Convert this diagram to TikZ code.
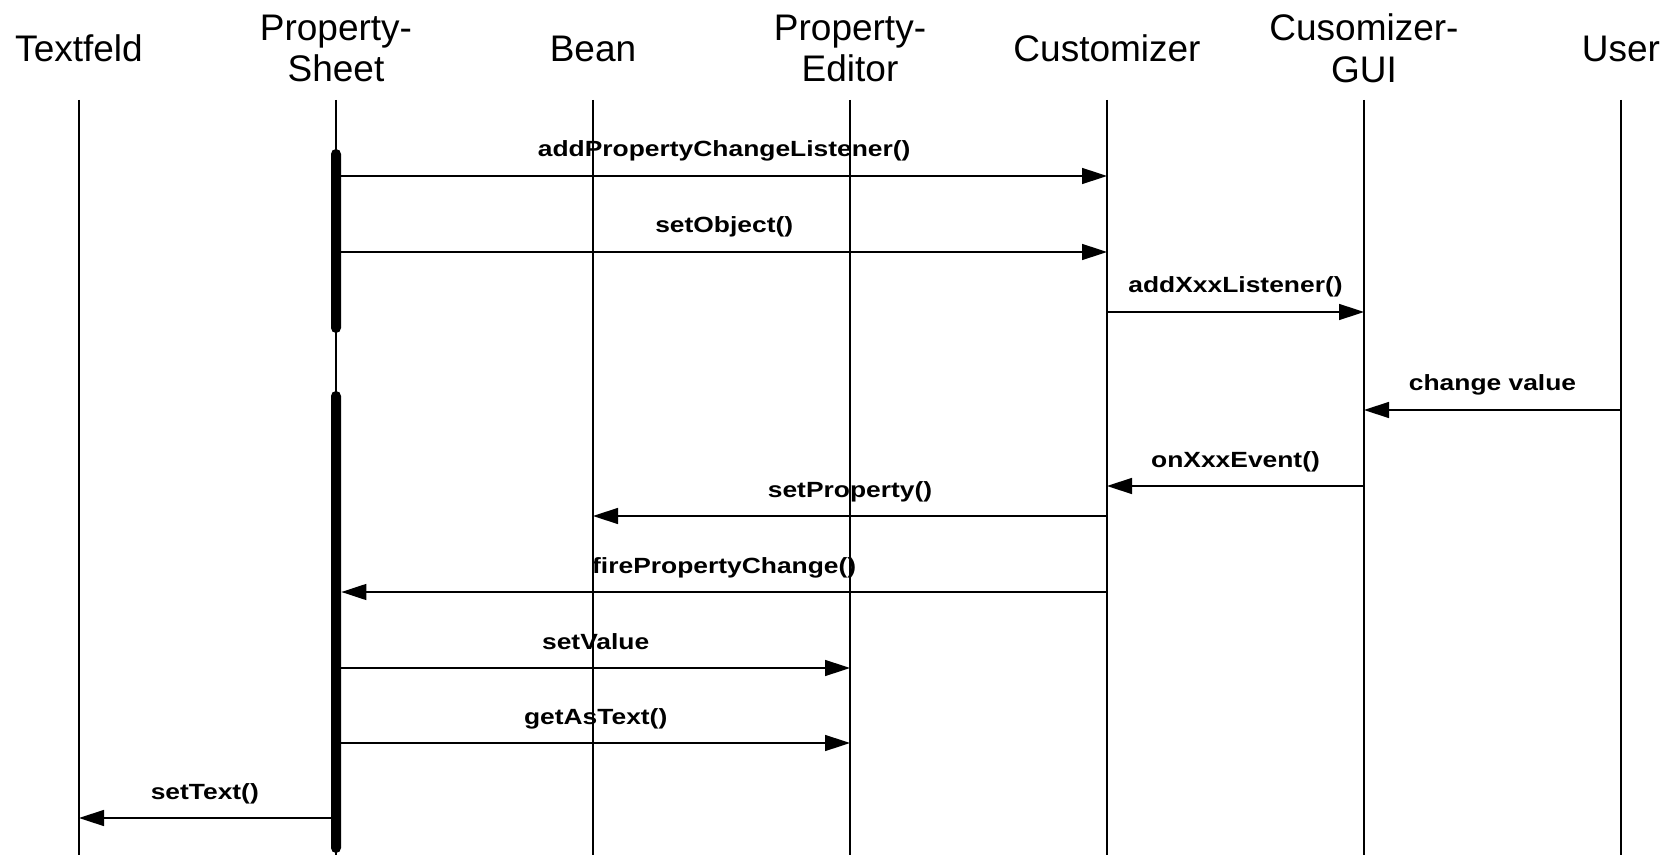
\documentclass[tikz,border=0pt]{standalone}
\usepackage{fontspec}
\setmainfont{Liberation Sans}
\newfontfamily\msgfont[FakeStretch=1.2]{Liberation Sans}
\usetikzlibrary{positioning,arrows.meta}

\begin{document}
\begin{tikzpicture}[x=0.5pt, y=-0.5pt, node distance=128.5pt, on grid]
    \tikzstyle{head}=[align=center, inner sep=0pt, font=\fontsize{18.5}{20.75}\selectfont]
    \tikzstyle{life}=[line width=0.75pt]
    \tikzstyle{actbar}=[fill=black, rounded corners=2.5pt, minimum width=5pt, inner sep=0pt]
    \tikzstyle{msg}=[line width=0.75pt, -{Triangle[length=12.5pt, width=8pt]}]
    \tikzstyle{lbl}=[font=\msgfont\bfseries\fontsize{11}{13}\selectfont, anchor=base, yshift=9.5pt, inner sep=0pt]
    \useasboundingbox (0,0) rectangle (1675,855);
    \node[head] (tf) at (79,48.5) {Textfeld};
    \node[head, right=of tf] (ps) {Property-\\Sheet};
    \node[head, right=of ps] (bean) {Bean};
    \node[head, right=of bean] (pe) {Property-\\Editor};
    \node[head, right=of pe] (cust) {Customizer};
    \node[head, right=of cust] (gui) {Cusomizer-\\GUI};
    \node[head, right=of gui] (user) {User};
    \coordinate (top) at (0,100);
    \coordinate (bot) at (0,855);
    \draw[life] (tf |- top) -- (tf |- bot);
    \draw[life] (ps |- top) -- (ps |- bot);
    \draw[life] (bean |- top) -- (bean |- bot);
    \draw[life] (pe |- top) -- (pe |- bot);
    \draw[life] (cust |- top) -- (cust |- bot);
    \draw[life] (gui |- top) -- (gui |- bot);
    \draw[life] (user |- top) -- (user |- bot);
    \node[actbar, minimum height=92pt] (act1) at (336,241) {};
    \node[actbar, minimum height=231pt] (act2) at (336,622) {};
    \coordinate (m1) at (0,176);
    \coordinate (m2) at (0,252);
    \coordinate (m3) at (0,312);
    \coordinate (m4) at (0,410);
    \coordinate (m5) at (0,486);
    \coordinate (m6) at (0,516);
    \coordinate (m7) at (0,592);
    \coordinate (m8) at (0,668);
    \coordinate (m9) at (0,743);
    \coordinate (m10) at (0,818);
    \draw[msg] (act1.east |- m1) -- (cust |- m1) node[lbl, midway] {addPropertyChangeListener()};
    \draw[msg] (act1.east |- m2) -- (cust |- m2) node[lbl, midway] {setObject()};
    \draw[msg] (cust |- m3) -- (gui |- m3) node[lbl, midway] {addXxxListener()};
    \draw[msg] (user |- m4) -- (gui |- m4) node[lbl, midway] {change value};
    \draw[msg] (gui |- m5) -- (cust |- m5) node[lbl, midway] {onXxxEvent()};
    \draw[msg] (cust |- m6) -- (bean |- m6) node[lbl, midway] {setProperty()};
    \draw[msg] (cust |- m7) -- (act2.east |- m7) node[lbl, midway] {firePropertyChange()};
    \draw[msg] (act2.east |- m8) -- (pe |- m8) node[lbl, midway] {setValue};
    \draw[msg] (act2.east |- m9) -- (pe |- m9) node[lbl, midway] {getAsText()};
    \draw[msg] (act2.west |- m10) -- (tf |- m10) node[lbl, midway] {setText()};
\end{tikzpicture}
\end{document}
